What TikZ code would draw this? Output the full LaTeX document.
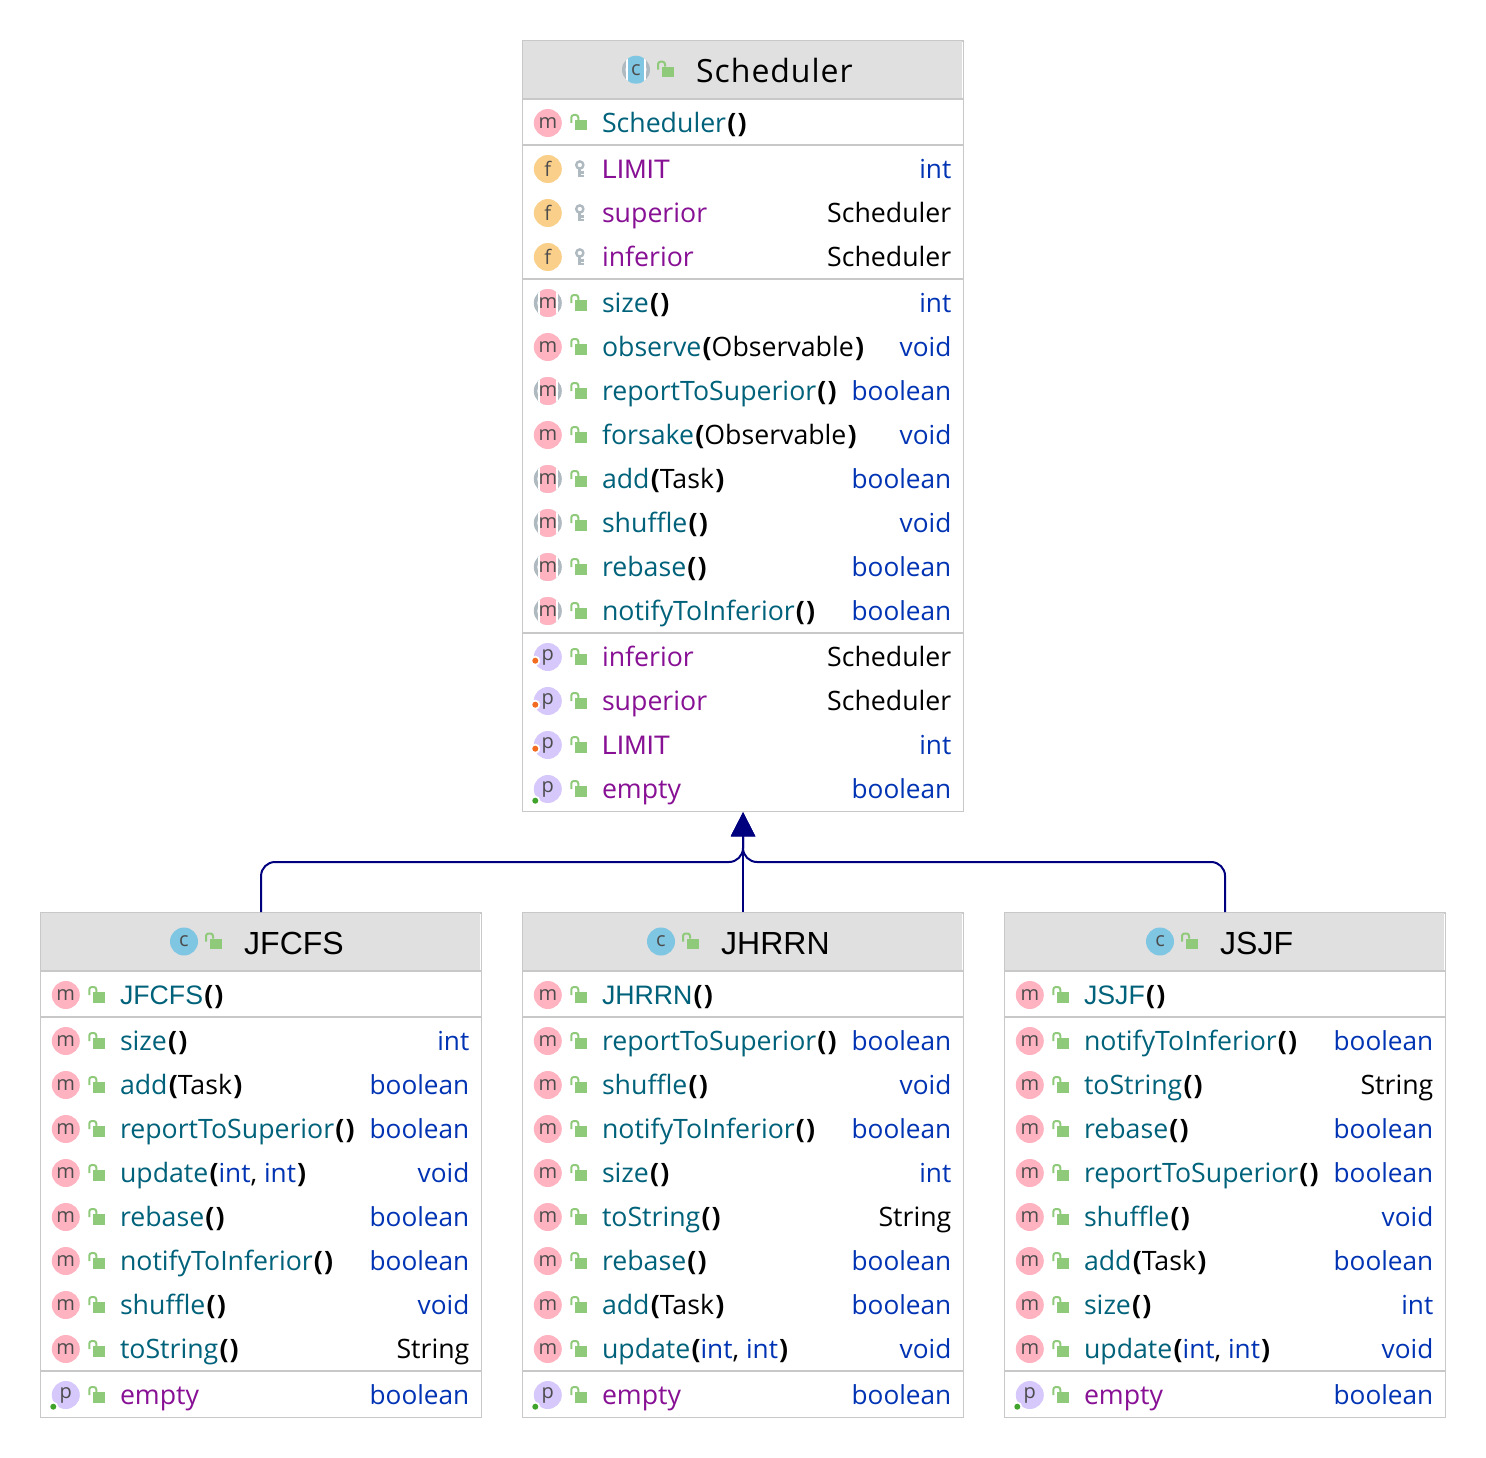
\documentclass[tikz,border=0pt]{standalone}
\usepackage{fontspec}
\setmainfont{Open Sans}
\newfontfamily\capsfont{Liberation Sans}
\newfontfamily\widefont[LetterSpace=3]{Open Sans}
\usetikzlibrary{arrows.meta}
\definecolor{boxgray}{HTML}{C8C8C8}
\definecolor{headgray}{HTML}{E0E0E0}
\definecolor{methodteal}{HTML}{00627A}
\definecolor{fieldpurple}{HTML}{871094}
\definecolor{typeblue}{HTML}{0033B3}
\definecolor{linknavy}{HTML}{00007F}
\definecolor{iconpink}{HTML}{FFB3C1}
\definecolor{iconorange}{HTML}{F9CF8A}
\definecolor{iconviolet}{HTML}{D6C8FB}
\definecolor{iconblue}{HTML}{7FC6E3}
\definecolor{icongray}{HTML}{AEB9C0}
\definecolor{lockgreen}{HTML}{8FC97A}
\definecolor{dotorange}{HTML}{F26B21}
\definecolor{dotgreen}{HTML}{3FA32C}
\tikzset{
  classbox/.style={draw=boxgray,line width=1.5pt,anchor=north west,minimum width=441pt,inner sep=0pt},
  headbar/.style={fill=headgray,draw=none},
  divider/.style={draw=boxgray,line width=2pt},
  ball/.style={circle,minimum size=28pt,inner sep=0pt,text=black!70,font=\fontsize{20}{20}\selectfont},
  titletext/.style={anchor=base west,inner sep=0pt,font=\fontsize{32}{32}\selectfont},
  nametext/.style={anchor=base west,inner sep=0pt,font=\fontsize{26.7}{26.7}\selectfont},
  typetext/.style={anchor=base east,inner sep=0pt,font=\fontsize{26.7}{26.7}\selectfont},
  extends/.style={draw=linknavy,line width=2pt,rounded corners=14pt,-{Triangle[length=24pt,width=24pt]}},
}
% Member text
\newcommand{\mth}[2]{\textcolor{methodteal}{#1}\kern1.2pt\textbf{(}#2\kern1.2pt\textbf{)}}
\newcommand{\fld}[1]{\textcolor{fieldpurple}{#1}}
\newcommand{\ty}[1]{{\fontsize{26.2}{26.2}\selectfont\textcolor{typeblue}{#1}}}
% Icons
\newcommand{\lockicon}[2]{
  \fill[lockgreen] (#1,#2-3) rectangle ++(11.5,10.5);
  \draw[lockgreen,line width=2pt,rounded corners=2.5pt] (#1-4,#2+0) -- (#1-4,#2-8) -- (#1+3,#2-8) -- (#1+3,#2-3);
}
\newcommand{\keyicon}[2]{
  \draw[icongray,line width=2.4pt] (#1,#2-4) circle (3.6pt);
  \draw[icongray,line width=2.8pt] (#1,#2-1) -- (#1,#2+8) (#1,#2+3.5) -- ++(4,0) (#1,#2+7) -- ++(4,0);
}
\newcommand{\iconm}[3]{\node[ball,fill=iconpink] (#3) at (#1,#2) {m};}
\newcommand{\iconf}[3]{\node[ball,fill=iconorange] (#3) at (#1,#2) {f};}
\newcommand{\iconc}[3]{\node[ball,fill=iconblue] (#3) at (#1,#2) {c};}
\newcommand{\iconbarred}[5]{
  \fill[icongray] (#1,#2) circle (14pt);
  \fill[white] (#1,#2) circle (10.5pt);
  \begin{scope}
    \clip (#1,#2) circle (14pt);
    \fill[white] (#1-10,#2-14) rectangle ++(20,28);
    \fill[#4] (#1-8,#2-14) rectangle ++(16,28);
  \end{scope}
  \node[ball] (#3) at (#1,#2) {#5};
}
\newcommand{\iconam}[3]{\iconbarred{#1}{#2}{#3}{iconpink}{m}}
\newcommand{\iconac}[3]{\iconbarred{#1}{#2}{#3}{iconblue}{c}}
\newcommand{\iconprop}[5]{
  \node[ball,fill=iconviolet] (#3) at (#1,#2) {p};
  \fill[white] (#1-12.5,#2+#4) circle (5pt);
  \fill[#5] (#1-12.5,#2+#4) circle (3pt);
}
\newcommand{\iconpo}[3]{\iconprop{#1}{#2}{#3}{3.7}{dotorange}}
\newcommand{\iconpg}[3]{\iconprop{#1}{#2}{#3}{11.7}{dotgreen}}
% A class: name, left, top, bottom, title x, icon, title
\newcommand{\umlclass}[7]{
  \def\cid{#1}\def\xo{#2}
  \node[classbox,minimum height=#4pt-#3pt] (#1) at (#2,#3) {};
  \fill[headbar] (#2+0.75,#3+0.75) rectangle (#2+440.25,#3+58);
  \draw[divider] (#2,#3+58.5) -- ++(441,0);
  \csname icon#6\endcsname{#5-60}{#3+29.5}{#1-icon}
  \lockicon{#5-34}{#3+29.5}
  \node[titletext] (#1-title) at (#5,#3+42) {#7};
}
\newcommand{\member}[5]{
  \csname icon#2\endcsname{\xo+26}{#1}{\cid-#1-icon}
  \if#3k\keyicon{\xo+58}{#1}\else\lockicon{\xo+53.5}{#1}\fi
  \node[nametext] (\cid-#1-name) at (\xo+80,#1+9.3) {#4};
  \node[typetext] (\cid-#1-type) at (\xo+429.7,#1+9.3) {#5};
}
\newcommand{\sep}[1]{\draw[divider] (\xo,#1) -- ++(441,0);}
\begin{document}
\begin{tikzpicture}[x=1pt,y=-1pt]
  \useasboundingbox (0,0) rectangle (1486,1458);
  % Scheduler
  \umlclass{scheduler}{521.8}{40.2}{810.8}{696}{ac}{\widefont Scheduler}
  \member{123}{m}{l}{\mth{Scheduler}{}}{}
  \sep{145}
  \member{169}{f}{k}{\fld{\capsfont LIMIT}}{\ty{int}}
  \member{213}{f}{k}{\fld{superior}}{Scheduler}
  \member{257}{f}{k}{\fld{inferior}}{Scheduler}
  \sep{279}
  \member{303}{am}{l}{\mth{size}{}}{\ty{int}}
  \member{347}{m}{l}{\mth{observe}{Observable}}{\ty{void}}
  \member{391}{am}{l}{\mth{reportToSuperior}{}}{\ty{boolean}}
  \member{435}{m}{l}{\mth{forsake}{Observable}}{\ty{void}}
  \member{479}{am}{l}{\mth{add}{Task}}{\ty{boolean}}
  \member{523}{am}{l}{\mth{shuffle}{}}{\ty{void}}
  \member{567}{am}{l}{\mth{rebase}{}}{\ty{boolean}}
  \member{611}{am}{l}{\mth{notifyToInferior}{}}{\ty{boolean}}
  \sep{633}
  \member{657}{po}{l}{\fld{inferior}}{Scheduler}
  \member{701}{po}{l}{\fld{superior}}{Scheduler}
  \member{745}{po}{l}{\fld{\capsfont LIMIT}}{\ty{int}}
  \member{789}{pg}{l}{\fld{empty}}{\ty{boolean}}
  % JFCFS
  \umlclass{jfcfs}{39.8}{912}{1416.8}{244}{c}{\capsfont JFCFS}
  \member{995}{m}{l}{\mth{\capsfont JFCFS}{}}{}
  \sep{1017}
  \member{1041}{m}{l}{\mth{size}{}}{\ty{int}}
  \member{1085}{m}{l}{\mth{add}{Task}}{\ty{boolean}}
  \member{1129}{m}{l}{\mth{reportToSuperior}{}}{\ty{boolean}}
  \member{1173}{m}{l}{\mth{update}{\ty{int}, \ty{int}}}{\ty{void}}
  \member{1217}{m}{l}{\mth{rebase}{}}{\ty{boolean}}
  \member{1261}{m}{l}{\mth{notifyToInferior}{}}{\ty{boolean}}
  \member{1305}{m}{l}{\mth{shuffle}{}}{\ty{void}}
  \member{1349}{m}{l}{\mth{toString}{}}{String}
  \sep{1371}
  \member{1395}{pg}{l}{\fld{empty}}{\ty{boolean}}
  % JHRRN
  \umlclass{jhrrn}{521.8}{912}{1416.8}{721}{c}{\capsfont JHRRN}
  \member{995}{m}{l}{\mth{\capsfont JHRRN}{}}{}
  \sep{1017}
  \member{1041}{m}{l}{\mth{reportToSuperior}{}}{\ty{boolean}}
  \member{1085}{m}{l}{\mth{shuffle}{}}{\ty{void}}
  \member{1129}{m}{l}{\mth{notifyToInferior}{}}{\ty{boolean}}
  \member{1173}{m}{l}{\mth{size}{}}{\ty{int}}
  \member{1217}{m}{l}{\mth{toString}{}}{String}
  \member{1261}{m}{l}{\mth{rebase}{}}{\ty{boolean}}
  \member{1305}{m}{l}{\mth{add}{Task}}{\ty{boolean}}
  \member{1349}{m}{l}{\mth{update}{\ty{int}, \ty{int}}}{\ty{void}}
  \sep{1371}
  \member{1395}{pg}{l}{\fld{empty}}{\ty{boolean}}
  % JSJF
  \umlclass{jsjf}{1003.8}{912}{1416.8}{1220}{c}{\capsfont JSJF}
  \member{995}{m}{l}{\mth{\capsfont JSJF}{}}{}
  \sep{1017}
  \member{1041}{m}{l}{\mth{notifyToInferior}{}}{\ty{boolean}}
  \member{1085}{m}{l}{\mth{toString}{}}{String}
  \member{1129}{m}{l}{\mth{rebase}{}}{\ty{boolean}}
  \member{1173}{m}{l}{\mth{reportToSuperior}{}}{\ty{boolean}}
  \member{1217}{m}{l}{\mth{shuffle}{}}{\ty{void}}
  \member{1261}{m}{l}{\mth{add}{Task}}{\ty{boolean}}
  \member{1305}{m}{l}{\mth{size}{}}{\ty{int}}
  \member{1349}{m}{l}{\mth{update}{\ty{int}, \ty{int}}}{\ty{void}}
  \sep{1371}
  \member{1395}{pg}{l}{\fld{empty}}{\ty{boolean}}
  % Connectors
  \coordinate (hub) at (743,862);
  \draw[extends] (jfcfs.north) |- (hub) -- (scheduler.south);
  \draw[extends] (jsjf.north) |- (hub) -- (scheduler.south);
  \draw[extends,rounded corners=0pt] (jhrrn.north) -- (scheduler.south);
\end{tikzpicture}
\end{document}
